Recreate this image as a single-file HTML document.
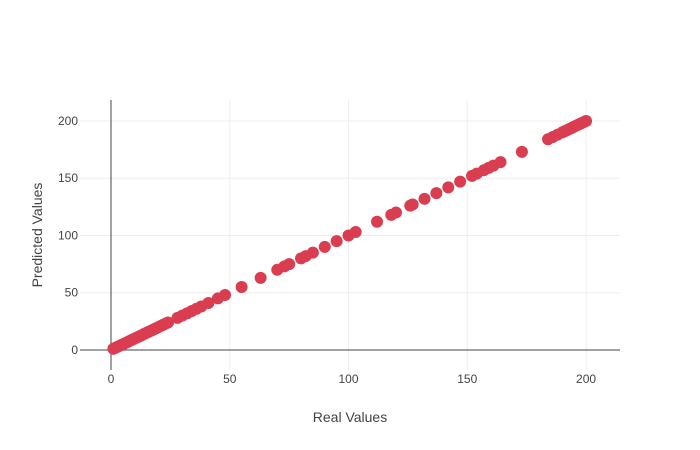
<!DOCTYPE html>
<html><head><meta charset="utf-8"><style>
body{margin:0;background:#fff;}
svg{display:block;font-family:"Liberation Sans",sans-serif;}
</style></head><body>
<svg id="chart" width="700" height="450">
<g id="grid"></g>
<g id="axes"></g>
<g id="points"></g>
<text x="350" y="422" text-anchor="middle" font-size="14" fill="#444">Real Values</text>
<text x="42" y="235" text-anchor="middle" font-size="14" fill="#444" transform="rotate(-90 42 235)">Predicted Values</text>
</svg>
<script>
const realValues=[1,2,3,4,5,6,7,8,9,10,11,12,13,14,15,16,17,18,19,20,21,22,23,24,28,30,32,34,36,38,41,45,48,55,63,70,73,75,80,82,85,90,95,100,103,112,118,120,126,127,132,137,142,147,152,154,157,159,161,164,173,184,186,188,190,191,192,193,194,195,196,197,198,199,200];
const predictedValues=[1,2,3,4,5,6,7,8,9,10,11,12,13,14,15,16,17,18,19,20,21,22,23,24,28,30,32,34,36,38,41,45,48,55,63,70,73,75,80,82,85,90,95,100,103,112,118,120,126,127,132,137,142,147,152,154,157,159,161,164,173,184,186,188,190,191,192,193,194,195,196,197,198,199,200];
const xTicks=[0,50,100,150,200];
const yTicks=[0,50,100,150,200];
const L=80,R=620,T=100,B=370;
const x0=-13.05,x1=214.3,y0=-17.5,y1=218.3;
const sx=v=>L+(v-x0)/(x1-x0)*(R-L);
const sy=v=>B-(v-y0)/(y1-y0)*(B-T);
const NS='http://www.w3.org/2000/svg';
function mk(tag,attrs,parent){const e=document.createElementNS(NS,tag);for(const k in attrs)e.setAttribute(k,attrs[k]);parent.appendChild(e);return e;}
const grid=document.getElementById('grid'),axes=document.getElementById('axes'),pts=document.getElementById('points');
xTicks.forEach(t=>{
 if(t!==0){const g=mk('line',{x1:sx(t),x2:sx(t),y1:T,y2:B,stroke:'#eee'},grid);
 
 }
 const tx=mk('text',{x:sx(t),y:383,'text-anchor':'middle','font-size':12,fill:'#444'},axes);tx.textContent=t;
 
 
});
yTicks.forEach(t=>{
 if(t!==0){const g=mk('line',{x1:L,x2:R,y1:sy(t),y2:sy(t),stroke:'#eee'},grid);
 
 }
 const tx=mk('text',{x:78,y:sy(t)+4,'text-anchor':'end','font-size':12,fill:'#444'},axes);tx.textContent=t;
 
 
});
const zx=mk('line',{x1:sx(0),x2:sx(0),y1:T,y2:B,stroke:'#444','stroke-width':1},axes);


const zy=mk('line',{x1:L,x2:R,y1:sy(0),y2:sy(0),stroke:'#444','stroke-width':1},axes);


realValues.forEach((v,i)=>{
 const c=mk('circle',{cx:sx(v),cy:sy(predictedValues[i]),r:6,fill:'rgb(218,60,80)'},pts);
 
 
});
</script>
</body></html>
